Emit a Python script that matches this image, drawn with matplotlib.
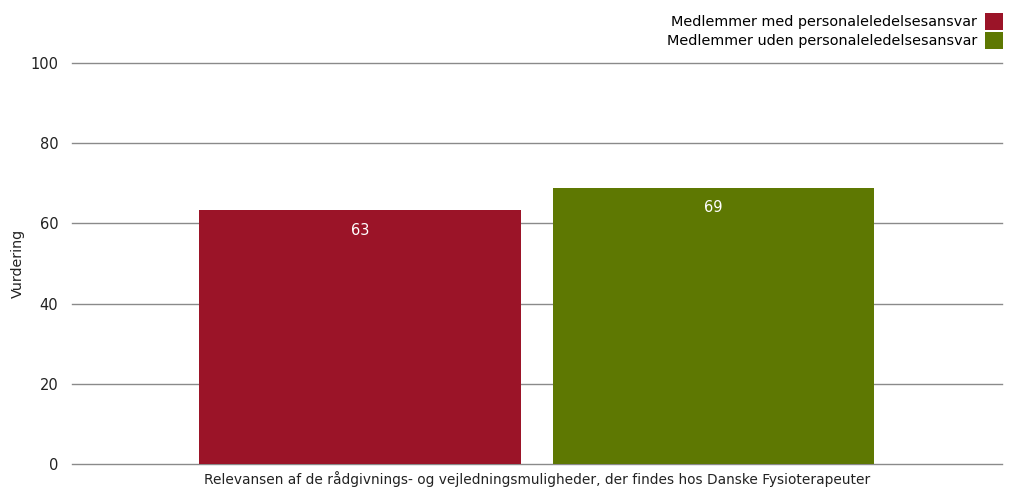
import matplotlib
matplotlib.use("Agg")
import matplotlib.pyplot as plt
import numpy as np

category = "Relevansen af de rådgivnings- og vejledningsmuligheder, der findes hos Danske Fysioterapeuter"
series_names = ["Medlemmer med personaleledelsesansvar", "Medlemmer uden personaleledelsesansvar"]
series_values = [63.4, 68.9]
series_colors = ["#9b1428", "#5e7802"]
y_ticks = [0, 20, 40, 60, 80, 100]

plt.rcParams["font.family"] = ["DejaVu Sans"]

fig = plt.figure(figsize=(10.13, 4.9), dpi=100)
ax = fig.add_axes([0.0711, 0.0531, 0.9179, 0.8184])

width = 0.346
offsets = [-0.19, 0.19]
handles = []
for name, val, col, off in zip(series_names, series_values, series_colors, offsets):
    b = ax.bar(off, val, width=width, color=col, label=name, zorder=3)
    ax.bar_label(b, labels=[f"{val:.0f}"], label_type="edge", padding=-20,
                 color="white", fontsize=10.5, zorder=4)
    handles.append(b)

ax.set_xlim(-0.5, 0.5)
ax.set_ylim(0, 100)
ax.set_yticks(y_ticks)
ax.set_xticks([0])
ax.set_xticklabels([category], fontsize=9.9, color="#222222")
ax.tick_params(axis="both", length=0, labelsize=10.5, colors="#222222")
ax.tick_params(axis="x", labelsize=9.9, pad=5)
ax.tick_params(axis="y", pad=10)
ax.grid(axis="y", color="#8a8a8a", linewidth=1, zorder=0)
for gl in ax.get_ygridlines():
    gl.set_clip_on(False)
for s in ax.spines.values():
    s.set_visible(False)
ax.set_ylabel("Vurdering", fontsize=10.3, color="#222222", labelpad=4)

fig.legend(handles=handles, labels=series_names, loc="upper right",
           bbox_to_anchor=(1.003, 1.0), frameon=False, markerfirst=False,
           fontsize=10.4, handlelength=1.25, handleheight=1.4, handletextpad=0.55,
           labelspacing=0.15, borderpad=0.4)

fig.savefig("out.png", dpi=100, facecolor="white")
